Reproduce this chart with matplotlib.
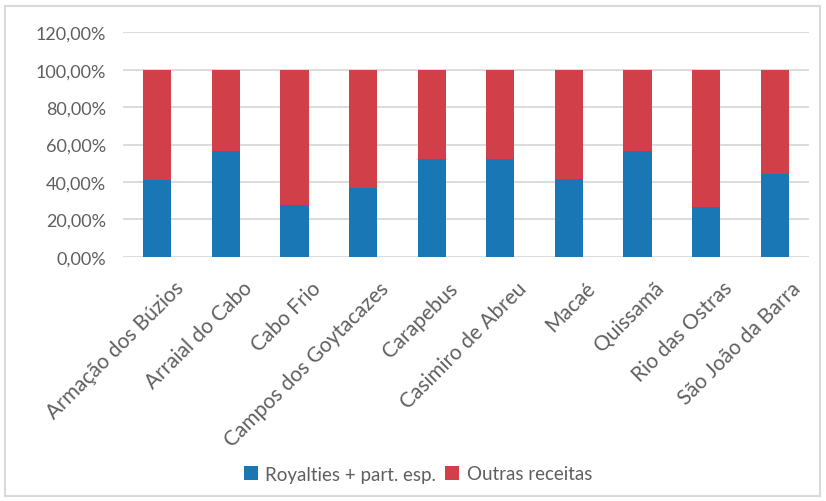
import matplotlib
matplotlib.use("Agg")
import matplotlib.pyplot as plt
import matplotlib.transforms as mtransforms
from matplotlib.patches import Rectangle
from matplotlib.ticker import FuncFormatter

municipios = ["Armação dos Búzios", "Arraial do Cabo", "Cabo Frio",
              "Campos dos Goytacazes", "Carapebus", "Casimiro de Abreu",
              "Macaé", "Quissamã", "Rio das Ostras", "São João da Barra"]
royalties = [41.1, 56.4, 27.5, 37.0, 52.3, 52.3, 41.6, 56.4, 26.8, 44.1]
outras = [100 - v for v in royalties]

series_names = ["Royalties + part. esp.", "Outras receitas"]
blue = "#1a77b5"
red = "#d13f48"
text_gray = "#5f5f5f"

plt.rcParams["font.family"] = ["Lato", "DejaVu Sans"]

fig = plt.figure(figsize=(8.26, 5.02), dpi=100)
W, H = 826, 502
ax = fig.add_axes([123 / W, 1 - 257.7 / H, 686 / W, (257.7 - 33.3) / H])

x = list(range(len(municipios)))
ax.bar(x, royalties, width=0.41, color=blue, label=series_names[0], zorder=3)
ax.bar(x, outras, width=0.41, bottom=royalties, color=red,
       label=series_names[1], zorder=3)

ax.set_xlim(-0.5, len(municipios) - 0.5)
ax.set_ylim(0, 120)
ax.set_yticks(range(0, 121, 20))
ax.yaxis.set_major_formatter(FuncFormatter(lambda v, p: f"{v:.2f}%".replace(".", ",")))
ax.grid(axis="y", color="#d9d9d9", linewidth=1.3, zorder=0)
for s in ax.spines.values():
    s.set_visible(False)
ax.tick_params(axis="both", length=0, colors=text_gray)
ax.tick_params(axis="y", pad=12, labelsize=13)
ax.set_xticks(x)
ax.set_xticklabels(municipios, rotation=45, ha="right", va="top",
                   rotation_mode="anchor", fontsize=15)
ax.tick_params(axis="x", pad=15)
shift = mtransforms.ScaledTranslation(16 / 100, 0, fig.dpi_scale_trans)
for lbl in ax.get_xticklabels():
    lbl.set_transform(lbl.get_transform() + shift)

leg = fig.legend(loc="center", bbox_to_anchor=(418 / W, 1 - 475 / H), ncol=2,
                 frameon=False, fontsize=13.5, handlelength=0.75,
                 handleheight=0.75, handletextpad=0.4, columnspacing=0.5)
for t in leg.get_texts():
    t.set_color(text_gray)

fig.patches.append(Rectangle((5 / W, 1 - 497 / H), 815 / W, 490 / H,
                             transform=fig.transFigure, fill=False,
                             edgecolor="#d9d9d9", linewidth=1.5))

fig.savefig("out.png", dpi=100)
